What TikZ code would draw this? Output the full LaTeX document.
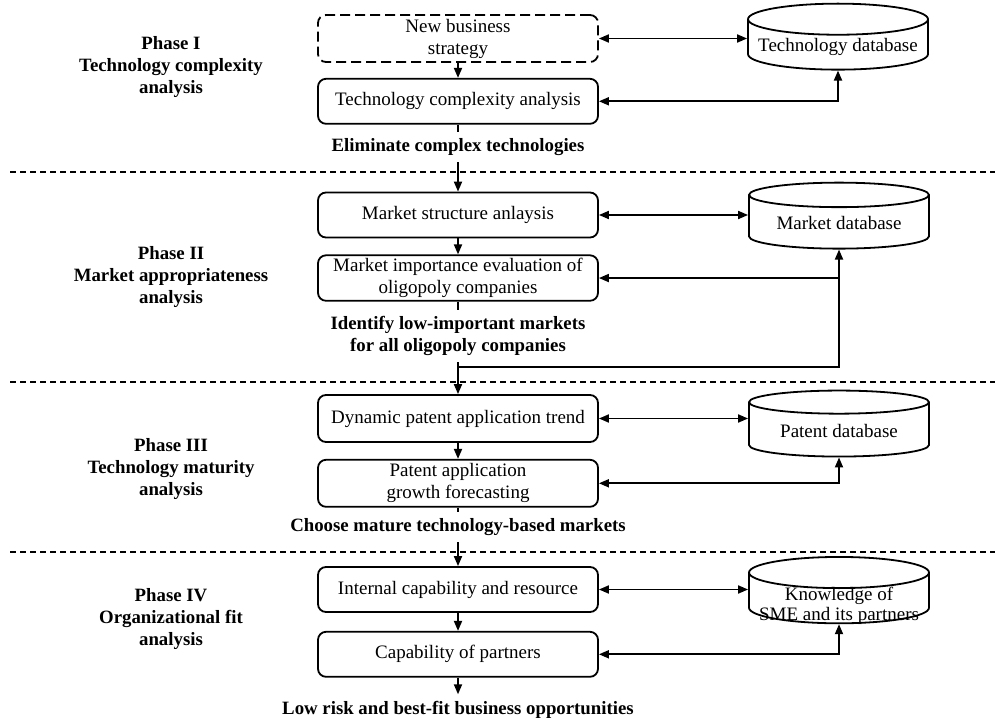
\documentclass[tikz,border=0pt]{standalone}
\usepackage{fontspec}
\setmainfont{Liberation Serif}
\usetikzlibrary{shapes.geometric,arrows.meta,positioning,calc}

\begin{document}
\begin{tikzpicture}[
    x=0.5pt, y=-0.5pt,
    font=\fontsize{9.5}{11}\selectfont,
    stepbox/.style={
      rectangle,
      rounded corners=4pt,
      draw,
      line width=0.9pt,
      minimum width=140pt,
      minimum height=22.5pt,
      inner ysep=1.5pt,
      align=center,
    },
    ideabox/.style={stepbox, dash pattern=on 5pt off 2.5pt, minimum height=23.5pt},
    dbase/.style={
      cylinder,
      shape border rotate=90,
      aspect=0.19,
      draw,
      line width=0.9pt,
      minimum width=90pt,
      minimum height=33pt,
      inner sep=1pt,
      align=center,
    },
    phase/.style={font=\fontsize{9.4}{11}\selectfont\bfseries, align=center},
    outcome/.style={font=\fontsize{9.4}{11}\selectfont\bfseries, align=center, fill=white},
    flow/.style={line width=0.9pt, -{Triangle[length=5pt,width=4pt]}},
    twoway/.style={line width=0.9pt, {Triangle[length=5pt,width=4pt]}-{Triangle[length=5pt,width=4pt]}},
    phaseline/.style={line width=0.8pt, dash pattern=on 3pt off 2pt},
  ]
    \useasboundingbox (0,0) rectangle (995,721);

    % phase titles
    \node[phase] (PhaseOne) at (171,67) {Phase I\\Technology complexity\\analysis};
    \node[phase] (PhaseTwo) at (171,277) {Phase II\\Market appropriateness\\analysis};
    \node[phase] (PhaseThree) at (171,469) {Phase III\\Technology maturity\\analysis};
    \node[phase] (PhaseFour) at (171,619) {Phase IV\\Organizational fit\\analysis};

    % middle column
    \node[ideabox] (Strategy) at (458,38.5) {New business\\strategy};
    \node[stepbox, below=7.5pt of Strategy] (Complexity) {Technology complexity analysis};
    \node[stepbox] (Structure) at (458,215) {Market structure anlaysis};
    \node[stepbox, below=8pt of Structure] (Importance) {Market importance evaluation of\\oligopoly companies};
    \node[stepbox, minimum height=23.5pt] (Trend) at (458,418.5) {Dynamic patent application trend};
    \node[stepbox, minimum height=23.5pt, below=8pt of Trend] (Growth) {Patent application\\growth forecasting};
    \node[stepbox] (Internal) at (458,589.5) {Internal capability and resource};
    \node[stepbox, below=9pt of Internal] (Partners) {Capability of partners};
    \node[phase] (Bestfit) at (458,710) {Low risk and best-fit business opportunities};

    % databases
    \node[dbase] (TechDB) at (838,46.5) {Technology database};
    \node[dbase] (MarketDB) at (839,223.5) {Market database};
    \node[dbase] (PatentDB) at (839,431) {Patent database};
    \node[dbase] (KnowDB) at (839,600) {\raisebox{-3pt}[7pt][2pt]{%
      \renewcommand{\arraystretch}{0.9}%
      \begin{tabular}{@{}c@{}}Knowledge of\\SME and its partners\end{tabular}}};

    % phase borders
    \foreach \y in {172,382,552}
      \draw[phaseline] (10,\y) -- (995,\y);

    % main flow
    \draw[flow] (Strategy) -- (Complexity);
    \draw[flow] (Complexity) -- (Structure);
    \draw[flow] (Structure) -- (Importance);
    \draw[flow] (Importance) -- (Trend);
    \draw[flow] (Trend) -- (Growth);
    \draw[flow] (Growth) -- (Internal);
    \draw[flow] (Internal) -- (Partners);
    \draw[flow] (Partners) -- (Bestfit);

    % links to the databases
    \draw[twoway] (Strategy.east) -- (Strategy.east -| TechDB.west);
    \draw[twoway] (Complexity.east) -| (TechDB.south);
    \draw[twoway] (Structure.east) -- (Structure.east -| MarketDB.west);
    \coordinate (MarketTap) at (458,367);
    \draw[flow] (MarketTap) -| (MarketDB.south);
    \draw[flow] (Importance.east -| MarketDB.south) -- (Importance.east);
    \draw[twoway] (Trend.east) -- (Trend.east -| PatentDB.west);
    \draw[twoway] (Growth.east) -| (PatentDB.south);
    \draw[twoway] (Internal.east) -- (Internal.east -| KnowDB.west);
    \draw[twoway] (Partners.east) -| (KnowDB.south);

    % results of each phase
    \node[outcome] (Eliminate) at (458,147) {Eliminate complex technologies};
    \node[outcome] (Identify) at (458,336) {Identify low-important markets\\for all oligopoly companies};
    \node[outcome] (Mature) at (458,527) {Choose mature technology-based markets};
\end{tikzpicture}
\end{document}
